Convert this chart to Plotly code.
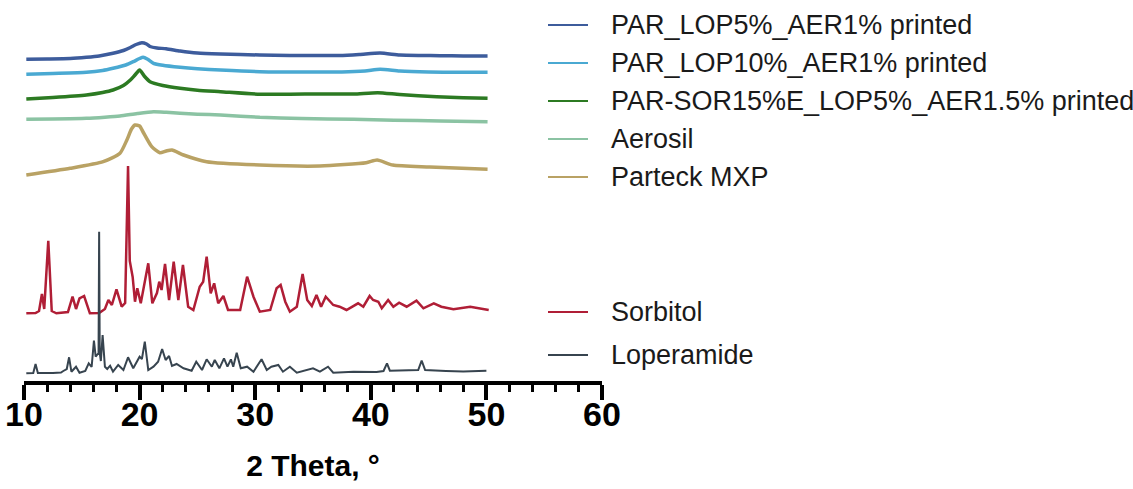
import plotly.graph_objects as go

# ---------------- data (2θ in degrees, stacked intensity in plot units) ----------------
lop5_x = [10.2, 12.0, 14.0, 15.4, 16.5, 17.7, 18.6, 19.2, 19.7, 20.2, 20.6, 20.9, 21.5, 22.3,
          23.5, 25.0, 27.0, 30.4, 33.0, 35.0, 37.3, 39.0, 40.8, 42.5, 44.3, 46.0, 48.0, 50.1]
lop5_y = [321.7, 322, 322.5, 323.7, 325, 327.7, 330.5, 333.5, 336.5, 338.3, 337, 334.5, 333, 332.3,
          330, 328, 327, 326, 325.5, 325.5, 325.5, 326.5, 328, 326, 325.5, 325.3, 325, 325]

lop10_x = [10.2, 12.5, 15.4, 16.8, 17.7, 18.8, 19.45, 20.0, 20.3, 20.7, 21.2, 22.0, 23.5, 25.0,
           27.0, 30.4, 34.0, 37.5, 39.5, 40.8, 42.5, 45.0, 47.5, 50.1]
lop10_y = [306.7, 307.5, 308.7, 310.5, 312.7, 316, 319.3, 322.5, 323.7, 321.7, 317.7, 315.7, 313.7, 312.3,
           311, 309.3, 309, 309, 310, 311.7, 310, 309, 308.7, 308.7]

sor15_x = [10.2, 12.5, 15.4, 16.8, 17.7, 18.6, 19.2, 19.6, 20.0, 20.4, 20.9, 22.0, 23.5, 25.0,
           27.0, 30.4, 33.0, 35.6, 38.5, 40.6, 42.5, 45.7, 48.0, 50.1]
sor15_y = [282, 283.5, 286, 288.5, 291, 295.5, 301, 306, 311, 305, 299.3, 295.5, 292.7, 290.8,
           289.3, 286.7, 286.8, 287, 287, 288.3, 286.5, 284.3, 283.3, 282.7]

aer_x = [10.2, 12.5, 15.4, 17.0, 18.3, 19.8, 21.2, 22.3, 23.5, 25.0, 27.0, 30.4, 34.0, 38.5,
         42.0, 46.0, 50.1]
aer_y = [261.7, 262, 262.7, 263.8, 265, 267.5, 269.3, 268.7, 267.7, 266.8, 266, 263.7, 262.5, 261.7,
         260.8, 260, 259.3]

mxp_x = [10.2, 14.0, 16.85, 18.3, 18.9, 19.3, 19.6, 20.0, 20.3, 21.05, 21.75, 22.3, 22.8, 23.8,
         25.8, 30.4, 35.6, 39.6, 40.55, 41.9, 45.1, 50.1]
mxp_y = [206, 212.7, 219.3, 227.7, 241, 252, 256, 255, 249, 234.3, 228.3, 230, 231, 226,
         219.3, 216, 215, 218.3, 221, 216, 214, 211.7]

sorb_x = [10.2, 11.0, 11.3, 11.55, 11.75, 12.1, 12.4, 12.8, 13.8, 14.2,
          14.5, 14.8, 15.2, 15.5, 15.7, 16.5, 17.0, 17.3, 17.6, 18.0,
          18.45, 18.75, 19.0, 19.15, 19.4, 19.6, 19.8, 20.1, 20.5, 20.75,
          21.1, 21.5, 21.7, 21.9, 22.2, 22.55, 22.95, 23.35, 23.75, 24.2,
          24.65, 25.2, 25.5, 25.8, 26.15, 26.45, 26.8, 27.25, 27.65, 28.7,
          29.3, 29.85, 30.4, 31.3, 31.85, 32.2, 32.6, 33.0, 33.6, 34.1,
          34.5, 34.9, 35.3, 35.7, 36.1, 36.75, 37.3, 37.9, 38.9, 39.35,
          39.9, 40.2, 40.65, 40.95, 41.5, 41.95, 42.45, 43.1, 43.95, 44.55,
          45.45, 46.1, 47.15, 48.6, 50.2]
sorb_y = [67.7, 68, 70, 87, 72, 140.3, 70, 67.7, 69, 84.3,
          72, 82.7, 85, 74, 67.7, 68, 72, 81, 76, 91.7,
          74.3, 78, 215, 120, 104, 79.3, 92.7, 77.7, 104.3, 117.7,
          77.7, 88, 99.3, 91, 117, 81, 119.3, 81, 116, 74.3,
          71, 94.3, 99.3, 124.3, 87.7, 97.7, 77.7, 85, 71, 71,
          104.3, 84.3, 69.3, 71, 92.7, 96, 79.3, 69.3, 74.3, 107,
          81, 75, 86, 74.3, 84.3, 76, 74.3, 71, 77.7, 74.3,
          85, 81, 79.3, 72.7, 81, 74.3, 78.3, 74.3, 80.3, 72.7,
          77.7, 74.3, 71.7, 74.3, 71]

lope_x = [10.2, 10.8, 11.0, 11.2, 12.5, 13.2, 13.4, 13.7, 13.9, 14.1,
          14.5, 14.8, 15.3, 15.6, 15.85, 16.05, 16.2, 16.45, 16.5, 16.55,
          16.65, 16.8, 17.0, 17.2, 17.45, 17.7, 18.15, 18.6, 19.0, 19.45,
          20.0, 20.2, 20.45, 20.75, 21.2, 21.6, 21.95, 22.25, 22.55, 22.8,
          23.2, 23.8, 24.5, 24.9, 25.4, 25.8, 26.25, 26.5, 26.9, 27.3,
          27.6, 27.9, 28.1, 28.4, 28.75, 29.3, 29.85, 30.55, 31.0, 31.4,
          32.0, 32.4, 33.0, 33.6, 35.0, 35.6, 36.3, 36.75, 38.5, 40.5,
          41.1, 41.4, 41.65, 43.4, 44.1, 44.4, 44.7, 46.5, 48.0, 50.0]
lope_y = [7.7, 8, 17, 8, 8, 8.5, 10, 12, 23.7, 9.3,
          14.3, 8.3, 10, 17.7, 14, 40.3, 24.3, 28, 149.3, 28,
          20, 46, 14.3, 12, 15.3, 9.3, 16, 11, 23.7, 12.7,
          24.3, 22, 39.3, 11, 14.3, 19.3, 32, 21, 25, 15,
          17, 12.7, 10.3, 19.3, 11, 21.7, 14.3, 21, 12.7, 22.7,
          14.3, 21.7, 14.3, 28.3, 12.7, 14.3, 9.3, 21.7, 11, 14.3,
          16, 9.3, 14.3, 8.3, 12.7, 9.3, 14.3, 8.3, 9.3, 9,
          10, 17.7, 10.3, 11, 11, 20.3, 11, 10, 9.5, 10.3]

series_names = ["PAR_LOP5%_AER1% printed", "PAR_LOP10%_AER1% printed",
                "PAR-SOR15%E_LOP5%_AER1.5% printed", "Aerosil", "Parteck MXP",
                "Sorbitol", "Loperamide"]
series_x = [lop5_x, lop10_x, sor15_x, aer_x, mxp_x, sorb_x, lope_x]
series_y = [lop5_y, lop10_y, sor15_y, aer_y, mxp_y, sorb_y, lope_y]

x_ticks = [10, 20, 30, 40, 50, 60]

# ---------------- styling ----------------
colors = ["#3d5c9c", "#4aa9d2", "#2c7a22", "#8bc3a3", "#b9a264", "#b01e36", "#37444f"]
widths = [3.5, 3.5, 3.5, 3.5, 3.5, 2.5, 2]
shapes_line = ["spline", "spline", "spline", "spline", "spline", "linear", "linear"]

W, H = 1133, 489
L, R, T, B = 24, 531, 30, 108
plot_w = W - L - R
plot_h = H - T - B

FONT = "Liberation Sans, Arial, sans-serif"

fig = go.Figure()
for name, xs, ys, c, w, sh in zip(series_names, series_x, series_y, colors, widths, shapes_line):
    assert len(xs) == len(ys), name
    fig.add_trace(go.Scatter(x=xs, y=ys, mode="lines", name=name,
                             line=dict(color=c, width=w, shape=sh, smoothing=0.6),
                             showlegend=False))

# manual legend (line sample + text) placed like the reference
legend_rows_px = [25, 63, 101, 139, 177, 312, 355]
line_x0_px, line_x1_px, text_x_px = 548, 588, 609

def px2paper_x(px):
    return (px - L) / plot_w

def px2paper_y(py):
    return (H - B - py) / plot_h

shapes = []
annotations = []
for name, c, py in zip(series_names, colors, legend_rows_px):
    yp = px2paper_y(py)
    shapes.append(dict(type="line", xref="paper", yref="paper",
                       x0=px2paper_x(line_x0_px), x1=px2paper_x(line_x1_px), y0=yp, y1=yp,
                       line=dict(color=c, width=2)))
    annotations.append(dict(text=name, xref="paper", yref="paper",
                            x=px2paper_x(text_x_px), y=yp, xanchor="left", yanchor="middle",
                            showarrow=False,
                            font=dict(family=FONT, size=27, color="#1a1a1a")))

fig.update_layout(
    width=W, height=H,
    margin=dict(l=L, r=R, t=T, b=B, autoexpand=False),
    paper_bgcolor="white", plot_bgcolor="white",
    shapes=shapes, annotations=annotations,
    xaxis=dict(
        range=[10, 60], tickvals=x_ticks, ticktext=[str(v) for v in x_ticks],
        ticks="outside", ticklen=15, tickwidth=3.5, tickcolor="black",
        ticklabelstandoff=-15,
        showline=True, linewidth=3.5, linecolor="black",
        showgrid=False, zeroline=False, automargin=False,
        tickfont=dict(family=FONT, size=34, color="black", weight="bold"),
        minor=dict(dtick=2, tick0=10, ticks="outside", ticklen=7, tickwidth=3,
                   tickcolor="black", showgrid=False),
        title=dict(text="2 Theta, °", standoff=24,
                   font=dict(family=FONT, size=30, color="black", weight="bold")),
    ),
    yaxis=dict(visible=False, range=[0, plot_h], fixedrange=True),
)

fig.write_html("out.html")
